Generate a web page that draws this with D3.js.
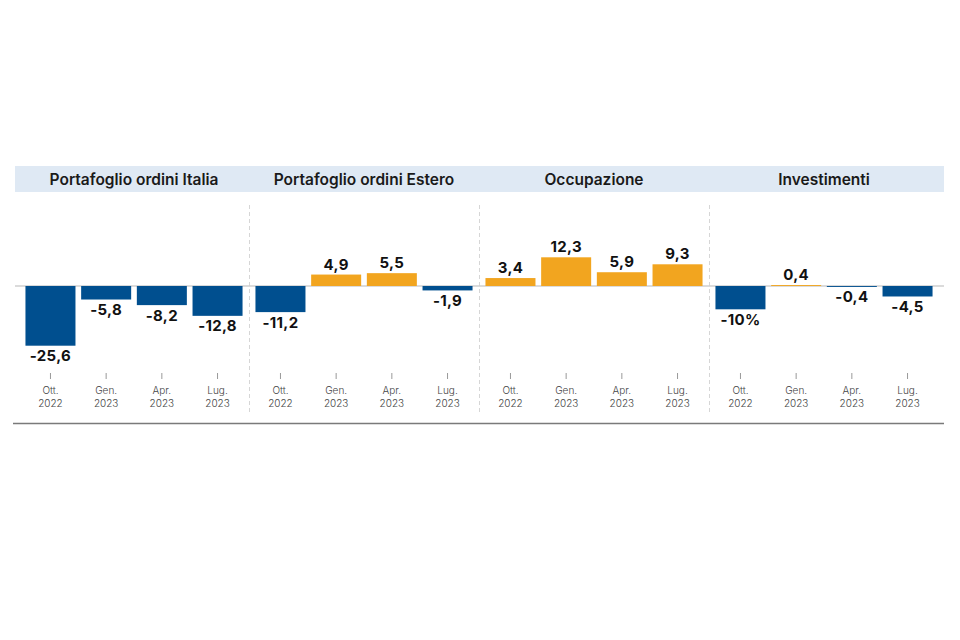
<!DOCTYPE html>
<html>
<head>
<meta charset="utf-8">
<script src="https://cdn.jsdelivr.net/npm/d3@7"></script>
<style>
  html, body { margin: 0; padding: 0; background: #fff; }
  svg { display: block; }
</style>
</head>
<body>
<svg width="960" height="640"></svg>
<script>
// chart data
const panels = ["Portafoglio ordini Italia", "Portafoglio ordini Estero", "Occupazione", "Investimenti"];
const months = ["Ott.", "Gen.", "Apr.", "Lug."];
const years = ["2022", "2023", "2023", "2023"];
const italia = [-25.6, -5.8, -8.2, -12.8];
const estero = [-11.2, 4.9, 5.5, -1.9];
const occupazione = [3.4, 12.3, 5.9, 9.3];
const investimenti = [-10, 0.4, -0.4, -4.5];
const labels = [
  ["-25,6", "-5,8", "-8,2", "-12,8"],
  ["-11,2", "4,9", "5,5", "-1,9"],
  ["3,4", "12,3", "5,9", "9,3"],
  ["-10%", "0,4", "-0,4", "-4,5"],
];
const series = [italia, estero, occupazione, investimenti];

const BLUE = "#004f8f";
const ORANGE = "#f2a51f";
const FONT = "Inter, 'Noto Sans', sans-serif";

const svg = d3.select("svg");

// panel and bar scales
const px = d3.scaleBand().domain(d3.range(panels.length)).range([19, 939]);
const bx = d3.scaleBand().domain(d3.range(months.length))
  .range([0, px.bandwidth()]).paddingInner(0.102).paddingOuter(0.116);
const y = d3.scaleLinear().domain([-25.6, 12.3]).range([345.7, 257.3]);

// header band
svg.append("rect")
  .attr("x", 15).attr("y", 166).attr("width", 929).attr("height", 26)
  .attr("fill", "#dfe9f4");

svg.selectAll(".title")
  .data(panels)
  .join("text")
  .attr("class", "title")
  .attr("x", (d, i) => px(i) + px.bandwidth() / 2)
  .attr("y", 184.5)
  .attr("text-anchor", "middle")
  .attr("font-family", FONT)
  .attr("font-size", 15.5)
  .attr("font-weight", 600)
  .attr("fill", "#1a1a1a")
  .text((d) => d);

// dashed separators
svg.selectAll(".sep")
  .data(d3.range(1, panels.length))
  .join("line")
  .attr("class", "sep")
  .attr("x1", (i) => px(i) + 0.5).attr("x2", (i) => px(i) + 0.5)
  .attr("y1", 205).attr("y2", 415)
  .attr("stroke", "#d6d6d6")
  .attr("stroke-dasharray", "4,3");

// zero line
svg.append("line")
  .attr("x1", 15).attr("x2", 944)
  .attr("y1", y(0)).attr("y2", y(0))
  .attr("stroke", "#cfcfcf")
  .attr("stroke-width", 1.5);

// bottom rule
svg.append("line")
  .attr("x1", 13).attr("x2", 944)
  .attr("y1", 423.5).attr("y2", 423.5)
  .attr("stroke", "#7a7a7a")
  .attr("stroke-width", 1.5);

series.forEach((values, p) => {
  const g = svg.append("g").attr("transform", `translate(${px(p)},0)`);

  g.selectAll("rect")
    .data(values)
    .join("rect")
    .attr("x", (d, i) => bx(i))
    .attr("width", bx.bandwidth())
    .attr("y", (d) => Math.min(y(d), y(0)))
    .attr("height", (d) => Math.abs(y(d) - y(0)))
    .attr("fill", (d) => (d >= 0 ? ORANGE : BLUE));

  g.selectAll(".val")
    .data(values)
    .join("text")
    .attr("class", "val")
    .attr("x", (d, i) => bx(i) + bx.bandwidth() / 2)
    .attr("y", (d) => (d >= 0 ? y(d) - 5 : y(d) + 15.5))
    .attr("text-anchor", "middle")
    .attr("font-family", FONT)
    .attr("font-size", 15)
    .attr("font-weight", 700)
    .attr("letter-spacing", 0.3)
    .attr("fill", "#111")
    .text((d, i) => labels[p][i]);

  // x axis ticks and two-line labels
  const axis = g.append("g").attr("transform", "translate(0,373)");
  axis.selectAll("line")
    .data(months)
    .join("line")
    .attr("x1", (d, i) => bx(i) + bx.bandwidth() / 2)
    .attr("x2", (d, i) => bx(i) + bx.bandwidth() / 2)
    .attr("y1", 0).attr("y2", 6)
    .attr("stroke", "#999");

  const tl = axis.selectAll("text")
    .data(months)
    .join("text")
    .attr("x", (d, i) => bx(i) + bx.bandwidth() / 2)
    .attr("y", 21)
    .attr("text-anchor", "middle")
    .attr("font-family", FONT)
    .attr("font-size", 10)
    .attr("font-weight", 300)
    .attr("fill", "#444");
  tl.append("tspan").text((d) => d);
  tl.append("tspan")
    .attr("x", (d, i) => bx(i) + bx.bandwidth() / 2)
    .attr("dy", 13)
    .text((d, i) => years[i]);
});
</script>
</body>
</html>
